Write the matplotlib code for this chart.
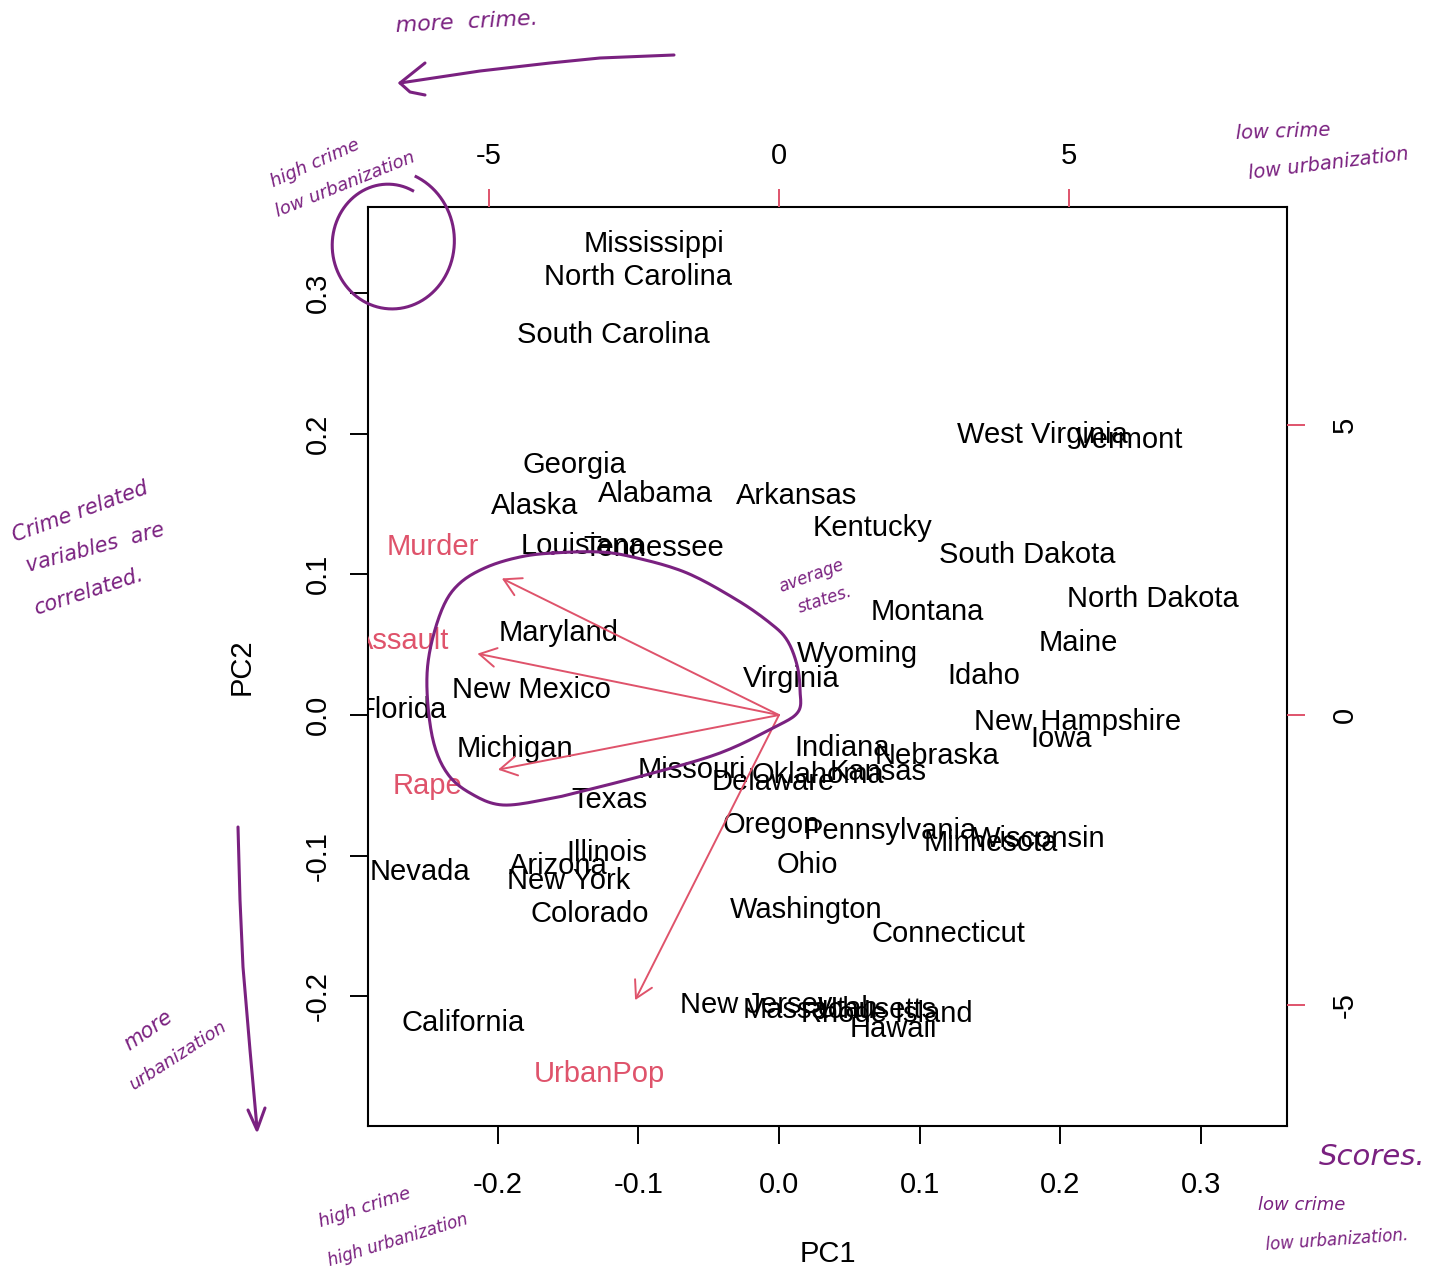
import numpy as np
import matplotlib
matplotlib.use("Agg")
import matplotlib.pyplot as plt
from matplotlib.transforms import offset_copy

plt.rcParams['font.family'] = ['Liberation Sans', 'DejaVu Sans']
plt.rcParams['axes.unicode_minus'] = False

# ---------------- data (scaled PCA scores & loadings) -------------
states = ["Alabama", "Alaska", "Arizona", "Arkansas", "California", "Colorado",
          "Connecticut", "Delaware", "Florida", "Georgia", "Hawaii", "Idaho",
          "Illinois", "Indiana", "Iowa", "Kansas", "Kentucky", "Louisiana",
          "Maine", "Maryland", "Massachusetts", "Michigan", "Minnesota",
          "Mississippi", "Missouri", "Montana", "Nebraska", "Nevada",
          "New Hampshire", "New Jersey", "New Mexico", "New York",
          "North Carolina", "North Dakota", "Ohio", "Oklahoma", "Oregon",
          "Pennsylvania", "Rhode Island", "South Carolina", "South Dakota",
          "Tennessee", "Texas", "Utah", "Vermont", "Virginia", "Washington",
          "West Virginia", "Wisconsin", "Wyoming"]
pc1 = [-0.0876, -0.1734, -0.1567, 0.0126, -0.2244, -0.1346,
       0.1208, -0.0042, -0.2679, -0.1457, 0.0811, 0.1458,
       -0.1226, 0.0449, 0.2003, 0.0708, 0.0667, -0.1391,
       0.2131, -0.1568, 0.0432, -0.1874, 0.1505,
       -0.0886, -0.0619, 0.1054, 0.1125, -0.2555,
       0.2119, -0.0161, -0.1760, -0.1496,
       -0.0999, 0.2660, 0.0201, 0.0277, -0.0053,
       0.0790, 0.0768, -0.1174, 0.1767,
       -0.0889, -0.1205, 0.0489, 0.2490, 0.0086, 0.0193,
       0.1874, 0.1849, 0.0560]
pc2 = [0.1595, 0.1510, -0.1050, 0.1576, -0.2171, -0.1390,
       -0.1532, -0.0458, 0.0055, 0.1800, -0.2210, 0.0297,
       -0.0959, -0.0213, -0.0146, -0.0380, 0.1349, 0.1226,
       0.0530, 0.0602, -0.2075, -0.0219, -0.0890,
       0.3369, -0.0371, 0.0755, -0.0273, -0.1091,
       -0.0025, -0.2040, 0.0201, -0.1158,
       0.3135, 0.0844, -0.1044, -0.0405, -0.0762,
       -0.0804, -0.2100, 0.2721, 0.1159,
       0.1211, -0.0580, -0.2070, 0.1973, 0.0281, -0.1365,
       0.2010, -0.0860, 0.0452]

variables = ["Murder", "Assault", "UrbanPop", "Rape"]
load1 = [-5.968, -6.494, -3.098, -6.051]
load2 = [2.942, 1.322, -6.140, -1.177]

score_ticks = [-0.2, -0.1, 0.0, 0.1, 0.2, 0.3]
load_ticks = [-5, 0, 5]

RED = "#DF536B"
PURPLE = "#7A2180"
FS = 21

# ---------------- limits (as R's biplot computes them) -------------
def urange(v):
    v = np.asarray(v)
    return np.array([-abs(v.min()), abs(v.max())])

rx1, rx2 = urange(pc1), urange(pc2)
lim = np.array([min(rx1[0], rx2[0]), max(rx1[1], rx2[1])])
ry1, ry2 = urange(load1), urange(load2)
ratio = max(np.max(ry1 / lim), np.max(ry2 / lim))
lim_e = lim + np.array([-0.04, 0.04]) * (lim[1] - lim[0])

W, H = 1437, 1274
fig = plt.figure(figsize=(W / 100, H / 100), dpi=100)
pos = [368 / W, (H - 1126) / H, 919 / W, 919 / H]

ax = fig.add_axes(pos)
ax.set_xlim(*lim_e)
ax.set_ylim(*lim_e)
ax.set_xticks(score_ticks)
ax.set_yticks(score_ticks)
ax.set_xticklabels([f"{t:.1f}" for t in score_ticks])
ax.set_yticklabels([f"{t:.1f}" for t in score_ticks], rotation=90, va='center')
ax.tick_params(axis='x', length=13, width=1.4, pad=19.5, labelsize=FS)
ax.tick_params(axis='y', length=13, width=1.4, pad=13, labelsize=FS)
for s in ax.spines.values():
    s.set_linewidth(1.5)
ax.set_xlabel("PC1", fontsize=FS)
ax.set_ylabel("PC2", fontsize=FS)
ax.xaxis.set_label_coords(0.5, -128 / 919)
ax.xaxis.label.set_va('center')
ax.yaxis.set_label_coords(-126 / 919, 0.5)
ax.yaxis.label.set_va('center')
ax.yaxis.label.set_ha('center')

tr1 = offset_copy(ax.transData, fig=fig, x=0, y=-3, units='dots')
for name, x, y in zip(states, pc1, pc2):
    ax.text(x, y, name, ha='center', va='center', fontsize=FS, clip_on=True,
            transform=tr1)

ax2 = fig.add_axes(pos, frameon=False)
ax2.set_xlim(*(lim_e * ratio))
ax2.set_ylim(*(lim_e * ratio))
ax2.xaxis.tick_top()
ax2.yaxis.tick_right()
ax2.set_xticks(load_ticks)
ax2.set_yticks(load_ticks)
ax2.set_xticklabels([str(t) for t in load_ticks])
ax2.set_yticklabels([str(t) for t in load_ticks], rotation=90, va='center')
ax2.tick_params(axis='x', length=13, width=1.4, pad=13.5, labelsize=FS,
                color=RED, labelcolor='black')
ax2.tick_params(axis='y', length=13, width=1.4, pad=18.5, labelsize=FS,
                color=RED, labelcolor='black')

tr2 = offset_copy(ax2.transData, fig=fig, x=0, y=-3, units='dots')
for name, a, b in zip(variables, load1, load2):
    ax2.annotate('', xy=(0.8 * a, 0.8 * b), xytext=(0, 0),
                 arrowprops=dict(arrowstyle='->,head_length=1.2,head_width=0.68',
                                 mutation_scale=10, color=RED, lw=1.4,
                                 shrinkA=0, shrinkB=0))
    ax2.text(a, b, name, ha='center', va='center', fontsize=FS, color=RED,
             clip_on=True, transform=tr2)

# ---------------- handwritten annotations (overlay in pixel space) -------------
ann = fig.add_axes([0, 0, 1, 1])
ann.set_xlim(0, W)
ann.set_ylim(H, 0)
ann.axis('off')
hw = dict(color=PURPLE, family='DejaVu Sans', style='italic', ha='center', va='center')

ann.text(467, 22, "more  crime.", fontsize=16, rotation=3, **hw)
ann.text(315, 163, "high crime", fontsize=13, rotation=24, **hw)
ann.text(345, 184, "low urbanization", fontsize=13, rotation=22, **hw)
ann.text(1283, 132, "low crime", fontsize=14, rotation=2, **hw)
ann.text(1328, 164, "low urbanization", fontsize=14, rotation=7, **hw)
ann.text(80, 512, "Crime related", fontsize=15, rotation=20, **hw)
ann.text(95, 548, "variables  are", fontsize=15, rotation=15, **hw)
ann.text(88, 592, "correlated.", fontsize=15, rotation=18, **hw)
ann.text(811, 576, "average", fontsize=12, rotation=20, **hw)
ann.text(825, 600, "states.", fontsize=12, rotation=18, **hw)
ann.text(148, 1030, "more", fontsize=15, rotation=35, **hw)
ann.text(178, 1055, "urbanization", fontsize=13, rotation=33, **hw)
ann.text(365, 1208, "high crime", fontsize=13, rotation=18, **hw)
ann.text(398, 1240, "high urbanization", fontsize=12, rotation=17, **hw)
ann.text(1372, 1157, "Scores.", fontsize=21, rotation=0, **hw)
ann.text(1302, 1205, "low crime", fontsize=13, rotation=0, **hw)
ann.text(1337, 1240, "low urbanization.", fontsize=12, rotation=4, **hw)

# "more crime" arrow
ax_pts = np.array([(674, 55), (600, 58), (550, 63), (480, 71), (400, 83)])
ann.plot(ax_pts[:, 0], ax_pts[:, 1], color=PURPLE, lw=2.2, solid_capstyle='round')
head = np.array([(425, 63), (400, 83), (410, 92), (425, 95)])
ann.plot(head[:, 0], head[:, 1], color=PURPLE, lw=2.2, solid_capstyle='round',
         solid_joinstyle='round')

# down arrow (more urbanization)
dn = np.array([(238, 827), (240, 900), (243, 967), (250, 1050), (257, 1128)])
ann.plot(dn[:, 0], dn[:, 1], color=PURPLE, lw=2.2, solid_capstyle='round')
dh = np.array([(248, 1110), (257, 1130), (265, 1108)])
ann.plot(dh[:, 0], dh[:, 1], color=PURPLE, lw=2.2, solid_capstyle='round',
         solid_joinstyle='round')

# small circle (top-left corner)
t = np.linspace(np.deg2rad(65), np.deg2rad(65 + 362), 200)
rf = np.linspace(0.85, 1.06, t.size)
cx, cy = 390, 243
ann.plot(cx + 63 * rf * np.cos(t), cy - 68 * rf * np.sin(t), color=PURPLE, lw=2.2)

# big loop around the variable arrows
loop = np.array([(553, 553), (600, 552), (637, 558), (687, 573), (737, 600),
                 (770, 623), (787, 640), (797, 665), (800, 690), (798, 712),
                 (773, 728), (720, 753), (653, 773), (587, 790), (553, 798),
                 (503, 805), (470, 793), (447, 773), (433, 740), (427, 690),
                 (430, 650), (443, 607), (460, 583), (487, 567), (520, 557)], float)

def catmull(p, n=12):
    out = []
    m = len(p)
    for i in range(m):
        p0, p1, p2, p3 = p[i - 1], p[i], p[(i + 1) % m], p[(i + 2) % m]
        for s in np.linspace(0, 1, n, endpoint=False):
            out.append(0.5 * ((2 * p1) + (-p0 + p2) * s +
                              (2 * p0 - 5 * p1 + 4 * p2 - p3) * s ** 2 +
                              (-p0 + 3 * p1 - 3 * p2 + p3) * s ** 3))
    out.append(out[0])
    return np.array(out)

lp = catmull(loop)
ann.plot(lp[:, 0], lp[:, 1], color=PURPLE, lw=2.2)

fig.savefig("out.png", dpi=100)
